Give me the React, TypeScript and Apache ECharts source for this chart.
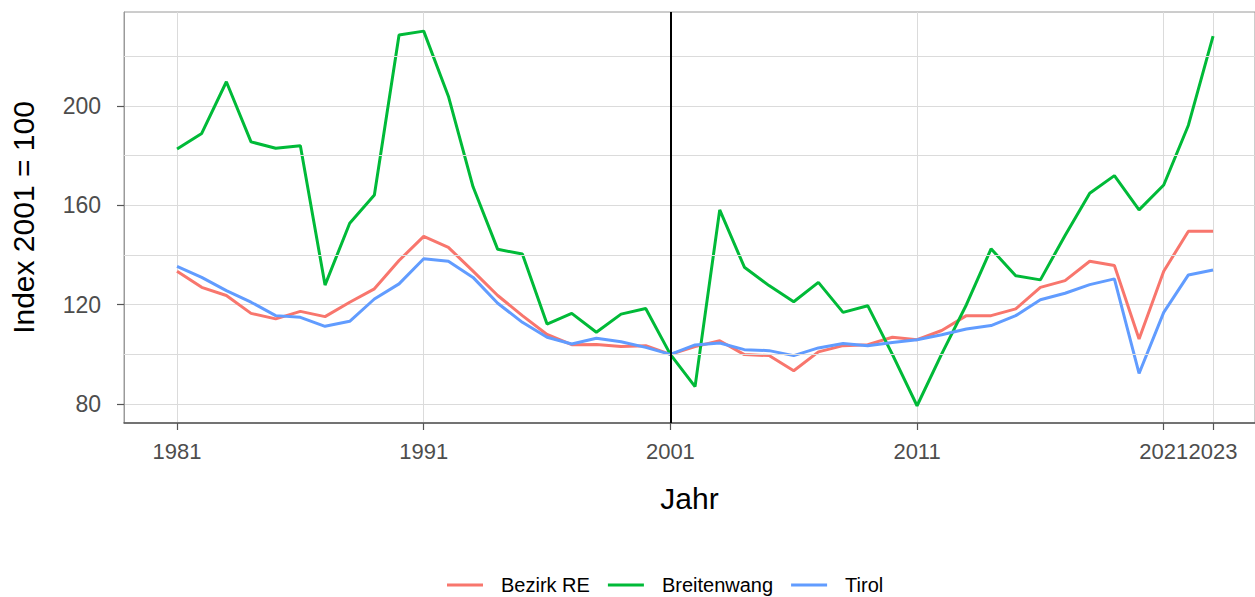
import React, { useEffect, useRef } from "react";
import * as echarts from "echarts";

const years = [
  1981, 1982, 1983, 1984, 1985, 1986, 1987, 1988, 1989, 1990,
  1991, 1992, 1993, 1994, 1995, 1996, 1997, 1998, 1999, 2000,
  2001, 2002, 2003, 2004, 2005, 2006, 2007, 2008, 2009, 2010,
  2011, 2012, 2013, 2014, 2015, 2016, 2017, 2018, 2019, 2020,
  2021, 2022, 2023,
];

const bezirkRE = [
  133.5, 127, 123.7, 116.5, 114.3, 117.3, 115.2, 121, 126.4, 137.8,
  147.5, 143.1, 133.5, 123.7, 115.6, 108, 103.9, 104, 103.2, 103.5,
  100, 103.1, 105.5, 99.9, 99.5, 93.4, 101, 103.5, 103.9, 106.9,
  105.9, 109.6, 115.6, 115.6, 118.3, 127, 129.7, 137.5, 135.8, 106.2,
  133.5, 149.6, 149.6,
];

const breitenwang = [
  182.7, 189, 209.8, 185.6, 183, 184, 127.9, 152.8, 164.2, 228.6,
  230.2, 204, 167.5, 142.3, 140.4, 112.2, 116.5, 108.9, 116.2, 118.5,
  100, 87, 158.2, 135.1, 127.7, 121.2, 129, 116.9, 119.6, 100,
  79.3, 100.2, 120, 142.5, 131.7, 130, 147.9, 164.9, 172, 158.2,
  168.2, 192.3, 228.2,
];

const tirol = [
  135.4, 131, 125.7, 121, 115.6, 114.9, 111.3, 113.3, 122.3, 128.4,
  138.5, 137.5, 131, 120.6, 112.9, 106.9, 104.2, 106.5, 105.1, 102.8,
  100, 103.8, 104.6, 101.9, 101.5, 99.5, 102.6, 104.4, 103.5, 104.8,
  105.9, 107.9, 110.2, 111.6, 115.6, 122, 124.6, 128.1, 130.4, 92.3,
  116.9, 132, 134,
];

const xTicks = [1981, 1991, 2001, 2011, 2021, 2023];
const yTicks = [80, 120, 160, 200];
const yMinorGrid = [100, 140, 180, 220];
const referenceYear = 2001;

const seriesNames = ["Bezirk RE", "Breitenwang", "Tirol"];
const seriesColors = ["#F8766D", "#00BA38", "#619CFF"];
const seriesValues = [bezirkRE, breitenwang, tirol];

const FONT = "'Liberation Sans', Arial, sans-serif";

export default function App() {
  const ref = useRef<HTMLDivElement>(null);

  useEffect(() => {
    if (!ref.current) return;
    const chart = echarts.init(ref.current, undefined, { renderer: "svg" });

    const dataSeries = seriesNames.map((name, i) => ({
      name,
      type: "line",
      data: years.map((y, j) => [y, seriesValues[i][j]]),
      symbol: "none",
      showSymbol: false,
      z: 3,
      lineStyle: { color: seriesColors[i], width: 3 },
      itemStyle: { color: seriesColors[i] },
    }));

    const option: any = {
      animation: false,
      backgroundColor: "#ffffff",
      textStyle: { fontFamily: FONT },
      grid: {
        left: 123,
        right: 0,
        top: 12,
        bottom: 174,
        show: true,
        borderColor: "#9a9a9a",
        borderWidth: 1,
        backgroundColor: "transparent",
      },
      legend: {
        data: seriesNames,
        top: 570,
        left: 442,
        icon: "rect",
        itemWidth: 36,
        itemHeight: 3,
        itemGap: 18,
        textStyle: {
          fontSize: 20,
          color: "#000000",
          fontFamily: FONT,
          padding: [0, 0, 0, 13],
        },
      },
      xAxis: {
        type: "value",
        min: 1978.85,
        max: 2024.7,
        name: "Jahr",
        nameLocation: "middle",
        nameGap: 60,
        nameTextStyle: { fontSize: 30, color: "#000000", fontFamily: FONT },
        axisLine: { show: true, lineStyle: { color: "#555555", width: 1.5 } },
        axisTick: {
          show: true,
          length: 7,
          customValues: xTicks,
          lineStyle: { color: "#555555", width: 1.2 },
        },
        axisLabel: {
          customValues: xTicks,
          fontSize: 22,
          color: "#4D4D4D",
          margin: 17,
          hideOverlap: false,
          fontFamily: FONT,
          formatter: (v: number) => String(v),
        },
        splitLine: { show: true, lineStyle: { color: "#DBDBDB", width: 1 } },
      },
      yAxis: {
        type: "value",
        min: 72.35,
        max: 237.9,
        name: "Index 2001 = 100",
        nameLocation: "middle",
        nameGap: 86,
        nameTextStyle: { fontSize: 30, color: "#000000", fontFamily: FONT },
        axisLine: { show: true, lineStyle: { color: "#9a9a9a", width: 1 } },
        axisTick: {
          show: true,
          length: 7,
          customValues: yTicks,
          lineStyle: { color: "#555555", width: 1.2 },
        },
        axisLabel: {
          customValues: yTicks,
          fontSize: 23,
          color: "#4D4D4D",
          margin: 23,
          fontFamily: FONT,
        },
        splitLine: { show: true, lineStyle: { color: "#DBDBDB", width: 1 } },
      },
      series: [
        {
          name: "_grid",
          type: "line",
          data: [],
          z: 1,
          silent: true,
          markLine: {
            silent: true,
            symbol: ["none", "none"],
            label: { show: false },
            lineStyle: { color: "#DBDBDB", width: 1, type: "solid" },
            data: yMinorGrid.map((v) => ({ yAxis: v })),
          },
        },
        ...dataSeries,
        {
          name: "_ref",
          type: "line",
          data: [],
          z: 5,
          silent: true,
          markLine: {
            silent: true,
            symbol: ["none", "none"],
            label: { show: false },
            lineStyle: { color: "#000000", width: 2, type: "solid" },
            data: [{ xAxis: referenceYear }],
          },
        },
      ],
    };

    chart.setOption(option);
    return () => chart.dispose();
  }, []);

  return (
    <div
      ref={ref}
      style={{ position: "absolute", left: 0, top: 0, width: 1255, height: 597 }}
    />
  );
}
